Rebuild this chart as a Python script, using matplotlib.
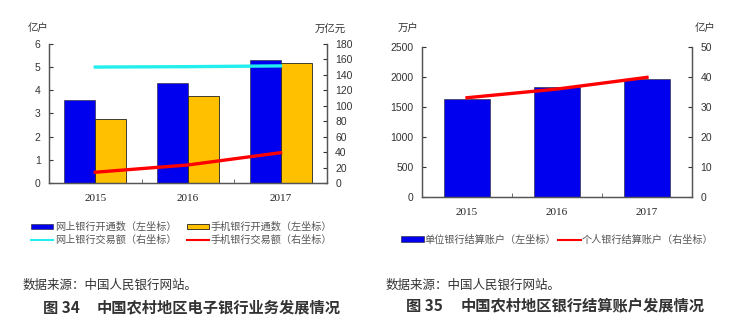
import numpy as np
import matplotlib.pyplot as plt
from matplotlib.patches import Patch
from matplotlib.lines import Line2D

plt.rcParams['font.family'] = ['Noto Sans CJK SC', 'DejaVu Sans']

years = ['2015', '2016', '2017']

# figure 34
online_users = [3.58, 4.30, 5.31]        # 亿户, left axis
mobile_users = [2.76, 3.74, 5.19]        # 亿户, left axis
online_amount = [150.0, 150.5, 151.5]    # 万亿元, right axis
mobile_amount = [13.9, 23.3, 39.2]       # 万亿元, right axis

# figure 35
unit_accounts = [1633, 1823, 1967]       # 万户, left axis
personal_accounts = [33.0, 35.9, 39.8]   # 亿户, right axis

BLUE = '#0000ee'
ORANGE = '#ffc000'
CYAN = '#22eeee'
RED = '#ff0000'
SPINE = '#555555'
TICK_FONT = ['Liberation Sans', 'DejaVu Sans']
YEAR_FONT = ['Liberation Serif', 'DejaVu Serif']


def style_axes(ax, ax2):
    for a in (ax, ax2):
        a.spines['top'].set_visible(False)
        for s in ('left', 'right', 'bottom'):
            a.spines[s].set_color(SPINE)
            a.spines[s].set_linewidth(0.9)
    ax.tick_params(axis='y', direction='in', length=3, labelsize=7.5, colors='#333333', pad=6)
    ax2.tick_params(axis='y', direction='in', length=3, labelsize=7.5, colors='#333333', pad=6)
    ax.set_xlim(-0.5, 2.5)
    x = np.arange(len(years))
    ax.set_xticks(x)
    ax.set_xticklabels(years, family=YEAR_FONT, fontsize=8, color='#222222')
    ax.tick_params(axis='x', length=0, pad=8)
    ax.set_xticks([0.5, 1.5], minor=True)
    ax.tick_params(axis='x', which='minor', direction='in', length=3, color=SPINE)
    for lab in ax.get_yticklabels() + ax2.get_yticklabels():
        lab.set_family(TICK_FONT)


fig = plt.figure(figsize=(7.41, 3.25), dpi=100)
x = np.arange(len(years))

# ---- figure 34 ----
ax = fig.add_axes([0.0661, 0.437, 0.375, 0.428])
ax2 = ax.twinx()
w = 0.335
ax.bar(x - w / 2, online_users, width=w, color=BLUE, edgecolor='#222222', linewidth=0.4)
ax.bar(x + w / 2, mobile_users, width=w, color=ORANGE, edgecolor='#222222', linewidth=0.6)
ax.set_ylim(0, 6)
ax.set_yticks(range(0, 7))
ax2.plot(x, online_amount, color=CYAN, lw=2.4)
ax2.plot(x, mobile_amount, color=RED, lw=2.4)
ax2.set_ylim(0, 180)
ax2.set_yticks(range(0, 181, 20))
ax.set_zorder(ax2.get_zorder() - 1)
ax2.patch.set_visible(False)
style_axes(ax, ax2)
fig.text(0.038, 0.905, '亿户', fontsize=7.5, color='#333333', style='italic')
fig.text(0.425, 0.9, '万亿元', fontsize=7.5, color='#333333', style='italic')

handles = [Patch(facecolor=BLUE, edgecolor='#222222', linewidth=0.4),
           Line2D([], [], color=CYAN, lw=1.5),
           Patch(facecolor=ORANGE, edgecolor='#222222', linewidth=0.6),
           Line2D([], [], color=RED, lw=1.5)]
labels = ['网上银行开通数（左坐标）', '网上银行交易额（右坐标）',
          '手机银行开通数（左坐标）', '手机银行交易额（右坐标）']
fig.legend(handles, labels, ncol=2, loc='center', bbox_to_anchor=(0.245, 0.282),
           frameon=False, fontsize=7.3, handlelength=2.2, handleheight=0.5,
           handletextpad=0.2, columnspacing=1.0, labelspacing=0.25,
           labelcolor='#555555')

fig.text(0.03, 0.123, '数据来源：中国人民银行网站。', fontsize=9, color='#333333', va='center')
fig.text(0.058, 0.053, '图 34', fontsize=11, fontweight='bold', color='#333333', va='center')
fig.text(0.131, 0.053, '中国农村地区电子银行业务发展情况', fontsize=11,
         fontweight='bold', color='#333333', va='center')

# ---- figure 35 ----
bx = fig.add_axes([0.5695, 0.395, 0.3644, 0.461])
bx2 = bx.twinx()
bx.bar(x, unit_accounts, width=0.51, color=BLUE, edgecolor='#222222', linewidth=0.4)
bx.set_ylim(0, 2500)
bx.set_yticks(range(0, 2501, 500))
bx2.plot(x, personal_accounts, color=RED, lw=2.4)
bx2.set_ylim(0, 50)
bx2.set_yticks(range(0, 51, 10))
bx.set_zorder(bx2.get_zorder() - 1)
bx2.patch.set_visible(False)
style_axes(bx, bx2)
fig.text(0.537, 0.905, '万户', fontsize=7.5, color='#333333', style='italic')
fig.text(0.937, 0.905, '亿户', fontsize=7.5, color='#333333', style='italic')

fig.legend([Patch(facecolor=BLUE, edgecolor='#222222', linewidth=0.4),
            Line2D([], [], color=RED, lw=1.5)],
           ['单位银行结算账户（左坐标）', '个人银行结算账户（右坐标）'],
           ncol=2, loc='center', bbox_to_anchor=(0.752, 0.262),
           frameon=False, fontsize=7.3, handlelength=2.2, handleheight=0.5,
           handletextpad=0.1, columnspacing=0.2, labelcolor='#555555')

fig.text(0.52, 0.123, '数据来源：中国人民银行网站。', fontsize=9, color='#333333', va='center')
fig.text(0.548, 0.058, '图 35', fontsize=11, fontweight='bold', color='#333333', va='center')
fig.text(0.621, 0.058, '中国农村地区银行结算账户发展情况', fontsize=11,
         fontweight='bold', color='#333333', va='center')

fig.savefig('out.png', dpi=100)
